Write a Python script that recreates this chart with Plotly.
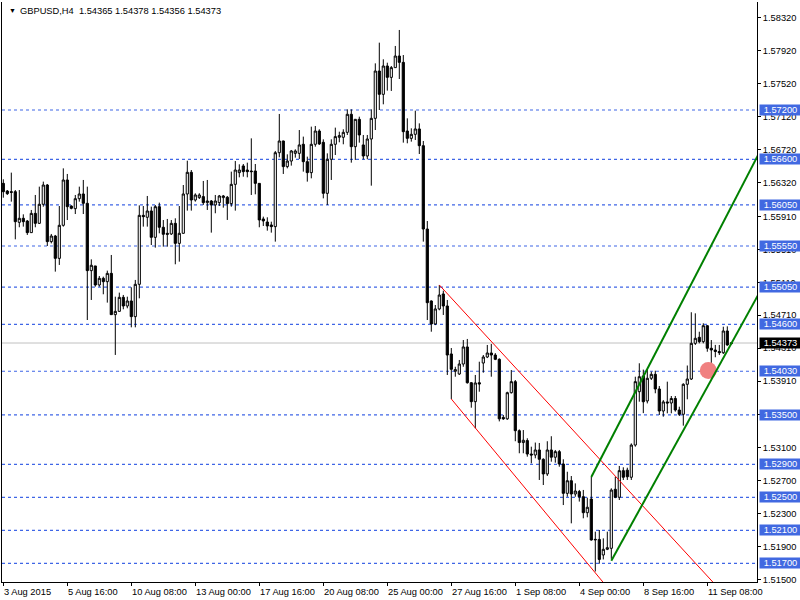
import plotly.graph_objects as go

# ---------------- data ----------------
title_text = "GBPUSD,H4  1.54365 1.54378 1.54356 1.54373"

opens = [1.56310, 1.56217, 1.56209, 1.56209, 1.55837, 1.55886, 1.55853, 1.55712, 1.55946, 1.55825,
         1.56056, 1.56290, 1.55603, 1.55671, 1.55400, 1.55801, 1.56351, 1.56035, 1.56003, 1.56124,
         1.56181, 1.56068, 1.55251, 1.55308, 1.55077, 1.55158, 1.55117, 1.55218, 1.54717, 1.54757,
         1.54927, 1.54822, 1.54883, 1.54693, 1.55085, 1.55922, 1.55898, 1.55975, 1.55655, 1.56027,
         1.55777, 1.55704, 1.55696, 1.55825, 1.55582, 1.55704, 1.56181, 1.56444, 1.56108, 1.56137,
         1.56149, 1.56076, 1.56096, 1.56048, 1.56076, 1.56137, 1.56141, 1.56064, 1.56298, 1.56440,
         1.56521, 1.56472, 1.56460, 1.56460, 1.56310, 1.55878, 1.55841, 1.55805, 1.55785, 1.56682,
         1.56824, 1.56513, 1.56581, 1.56674, 1.56674, 1.56784, 1.56573, 1.56440, 1.56784, 1.56945,
         1.56808, 1.56189, 1.56602, 1.56784, 1.56869, 1.56869, 1.56929, 1.57148, 1.56755, 1.57087,
         1.56776, 1.56642, 1.56848, 1.57099, 1.57673, 1.57390, 1.57734, 1.57596, 1.57714, 1.57855,
         1.57778, 1.56945, 1.56856, 1.56905, 1.56970, 1.56767, 1.55756, 1.54883, 1.54604, 1.54786,
         1.54968, 1.54822, 1.54240, 1.54030, 1.53997, 1.54118, 1.54325, 1.53891, 1.53661, 1.53891,
         1.54130, 1.54203, 1.54252, 1.54227, 1.54175, 1.53470, 1.53453, 1.53770, 1.53904, 1.53309,
         1.53165, 1.53189, 1.53026, 1.53014, 1.53075, 1.52962, 1.52784, 1.53075, 1.52987, 1.53055,
         1.52905, 1.52549, 1.52702, 1.52541, 1.52570, 1.52508, 1.52314, 1.52480, 1.51983, 1.51990,
         1.51801, 1.51870, 1.51882, 1.52598, 1.52501, 1.52824, 1.52830, 1.52744, 1.53135, 1.53782,
         1.53973, 1.53670, 1.53945, 1.53993, 1.53815, 1.53548, 1.53658, 1.53645, 1.53700, 1.53560,
         1.53508, 1.53872, 1.53936, 1.54369, 1.54442, 1.54389, 1.54583, 1.54309, 1.54288, 1.54270,
         1.54255, 1.54519, 1.54365]

highs = [1.56359, 1.56229, 1.56440, 1.56229, 1.56229, 1.55934, 1.55865, 1.55987, 1.56169, 1.56270,
         1.56331, 1.56302, 1.55696, 1.55684, 1.56035, 1.56492, 1.56424, 1.56043, 1.56169, 1.56270,
         1.56351, 1.56270, 1.55388, 1.55308, 1.55186, 1.55178, 1.55251, 1.55441, 1.54935, 1.54984,
         1.54956, 1.54935, 1.55049, 1.55138, 1.56043, 1.56035, 1.56157, 1.56027, 1.56047, 1.56076,
         1.55865, 1.55878, 1.55865, 1.55886, 1.56035, 1.56290, 1.56585, 1.56472, 1.56189, 1.56190,
         1.56339, 1.56351, 1.56108, 1.56169, 1.56169, 1.56169, 1.56157, 1.56452, 1.56581, 1.56541,
         1.56545, 1.56561, 1.56856, 1.56545, 1.56310, 1.55906, 1.55898, 1.55845, 1.56703, 1.57152,
         1.56828, 1.56662, 1.56715, 1.56723, 1.56957, 1.56877, 1.56634, 1.56998, 1.57006, 1.56966,
         1.56844, 1.56674, 1.56844, 1.56986, 1.56937, 1.56966, 1.57208, 1.57208, 1.57091, 1.57119,
         1.56897, 1.56897, 1.57208, 1.57766, 1.58017, 1.57815, 1.57774, 1.57734, 1.57977, 1.58171,
         1.57867, 1.57099, 1.56978, 1.57192, 1.57038, 1.56824, 1.55853, 1.54890, 1.54834, 1.55077,
         1.55008, 1.54895, 1.54312, 1.54085, 1.54167, 1.54409, 1.54422, 1.53900, 1.53985, 1.54146,
         1.54227, 1.54349, 1.54361, 1.54250, 1.54187, 1.53500, 1.53782, 1.54045, 1.53924, 1.53325,
         1.53317, 1.53217, 1.53115, 1.53165, 1.53160, 1.52974, 1.53181, 1.53242, 1.53075, 1.53075,
         1.52962, 1.52811, 1.52759, 1.52670, 1.52590, 1.52590, 1.52496, 1.52747, 1.52084, 1.52104,
         1.52003, 1.52084, 1.52610, 1.52751, 1.52881, 1.52865, 1.52860, 1.53155, 1.53964, 1.54127,
         1.54050, 1.54045, 1.54025, 1.54037, 1.53851, 1.53680, 1.53904, 1.53730, 1.53730, 1.53600,
         1.53884, 1.54100, 1.54746, 1.54733, 1.54510, 1.54612, 1.54590, 1.54409, 1.54350, 1.54349,
         1.54571, 1.54575, 1.54378]

lows = [1.56136, 1.56169, 1.56088, 1.55631, 1.55777, 1.55785, 1.55684, 1.55710, 1.55777, 1.55817,
        1.56027, 1.55550, 1.55582, 1.55239, 1.55320, 1.55785, 1.55865, 1.55995, 1.55938, 1.56088,
        1.55938, 1.54652, 1.54895, 1.55057, 1.55057, 1.54964, 1.54863, 1.54717, 1.54228, 1.54753,
        1.54782, 1.54794, 1.54563, 1.54563, 1.54915, 1.55785, 1.55785, 1.55562, 1.55530, 1.55704,
        1.55542, 1.55542, 1.55684, 1.55328, 1.55360, 1.55700, 1.55979, 1.55979, 1.56088, 1.56120,
        1.56048, 1.55987, 1.55712, 1.55947, 1.56035, 1.56015, 1.55866, 1.56027, 1.55979, 1.56383,
        1.56391, 1.56383, 1.56169, 1.56177, 1.55777, 1.55793, 1.55736, 1.55712, 1.55603, 1.56626,
        1.56424, 1.56492, 1.56525, 1.56622, 1.56606, 1.56452, 1.56331, 1.56371, 1.56755, 1.56776,
        1.56128, 1.56048, 1.56351, 1.56654, 1.56808, 1.56784, 1.56897, 1.56561, 1.56594, 1.56804,
        1.56602, 1.56602, 1.56282, 1.56957, 1.57200, 1.57269, 1.57435, 1.57431, 1.57714, 1.57576,
        1.56804, 1.56796, 1.56816, 1.56836, 1.56666, 1.55603, 1.54652, 1.54510, 1.54590, 1.54770,
        1.54713, 1.53985, 1.53694, 1.53964, 1.53985, 1.54085, 1.53880, 1.53588, 1.53338, 1.53782,
        1.54013, 1.54190, 1.53964, 1.54165, 1.53422, 1.53440, 1.53440, 1.53760, 1.53181, 1.53035,
        1.53035, 1.52994, 1.52913, 1.52974, 1.52711, 1.52650, 1.52760, 1.52933, 1.52921, 1.52872,
        1.52407, 1.52508, 1.52185, 1.52508, 1.52449, 1.52246, 1.52258, 1.51975, 1.51601, 1.51696,
        1.51747, 1.51860, 1.51754, 1.52490, 1.52468, 1.52711, 1.52711, 1.52711, 1.53115, 1.53661,
        1.53522, 1.53640, 1.53924, 1.53763, 1.53500, 1.53479, 1.53520, 1.53520, 1.53540, 1.53487,
        1.53370, 1.53690, 1.53924, 1.54349, 1.54369, 1.54369, 1.54267, 1.54045, 1.54200, 1.54227,
        1.54240, 1.54340, 1.54356]

closes = [1.56209, 1.56185, 1.56201, 1.55845, 1.55886, 1.55845, 1.55712, 1.55946, 1.55825, 1.56056,
          1.56290, 1.55603, 1.55671, 1.55400, 1.55801, 1.56351, 1.56027, 1.56007, 1.56124, 1.56181,
          1.56068, 1.55251, 1.55316, 1.55077, 1.55158, 1.55117, 1.55218, 1.54717, 1.54757, 1.54927,
          1.54822, 1.54883, 1.54693, 1.55085, 1.55922, 1.55906, 1.55975, 1.55655, 1.56027, 1.55777,
          1.55692, 1.55692, 1.55825, 1.55582, 1.55704, 1.56181, 1.56444, 1.56108, 1.56169, 1.56169,
          1.56076, 1.56096, 1.56048, 1.56096, 1.56157, 1.56157, 1.56064, 1.56298, 1.56472, 1.56472,
          1.56452, 1.56452, 1.56452, 1.56310, 1.55866, 1.55854, 1.55793, 1.55785, 1.56682, 1.56824,
          1.56513, 1.56581, 1.56703, 1.56703, 1.56776, 1.56573, 1.56440, 1.56784, 1.56945, 1.56788,
          1.56189, 1.56602, 1.56784, 1.56877, 1.56889, 1.56929, 1.57148, 1.56755, 1.57087, 1.56897,
          1.56642, 1.56848, 1.57099, 1.57673, 1.57390, 1.57734, 1.57596, 1.57714, 1.57855, 1.57778,
          1.56937, 1.56856, 1.56905, 1.56970, 1.56767, 1.55756, 1.54862, 1.54604, 1.54786, 1.54955,
          1.54822, 1.54227, 1.54054, 1.54050, 1.54118, 1.54325, 1.53891, 1.53661, 1.53888, 1.53876,
          1.54203, 1.54252, 1.54227, 1.54175, 1.53453, 1.53453, 1.53770, 1.53904, 1.53309, 1.53165,
          1.53193, 1.53026, 1.53014, 1.53075, 1.52962, 1.52784, 1.53075, 1.52987, 1.53055, 1.52905,
          1.52549, 1.52702, 1.52541, 1.52577, 1.52508, 1.52314, 1.52380, 1.51983, 1.51990, 1.51747,
          1.51870, 1.51889, 1.52589, 1.52501, 1.52824, 1.52744, 1.52750, 1.53135, 1.53904, 1.53964,
          1.53660, 1.53945, 1.53993, 1.53815, 1.53548, 1.53658, 1.53645, 1.53700, 1.53560, 1.53508,
          1.53872, 1.53936, 1.54369, 1.54430, 1.54389, 1.54583, 1.54309, 1.54288, 1.54270, 1.54255,
          1.54519, 1.54349, 1.54373]

bar_index = list(range(len(opens)))

x_tick_bars = [0, 16, 32, 48, 64, 80, 96, 112, 128, 144, 160, 176]
x_tick_labels = ["3 Aug 2015", "5 Aug 16:00", "10 Aug 08:00", "13 Aug 00:00", "17 Aug 16:00",
                 "20 Aug 08:00", "25 Aug 00:00", "27 Aug 16:00", "1 Sep 08:00", "4 Sep 00:00",
                 "8 Sep 16:00", "11 Sep 08:00"]

y_tick_values = [1.5832, 1.5792, 1.5752, 1.5712, 1.5672, 1.5632, 1.5591, 1.5551, 1.5511,
                 1.5471, 1.5431, 1.5391, 1.5351, 1.5310, 1.5270, 1.5230, 1.5190, 1.5150]

level_prices = [1.5720, 1.5660, 1.5605, 1.5555, 1.5505, 1.5460, 1.5403, 1.5350,
                1.5290, 1.5250, 1.5210, 1.5170]

current_price = 1.54373

red_upper_bars = [109, 190]
red_upper_prices = [1.55077, 1.50808]
red_lower_bars = [112, 160]
red_lower_prices = [1.53694, 1.50881]
green_upper_bars = [147, 190]
green_upper_prices = [1.52747, 1.56776]
green_lower_bars = [152, 190]
green_lower_prices = [1.51730, 1.55070]
marker_bar = [176.25]
marker_price = [1.54040]

# ---------------- figure ----------------
FONT = "Liberation Sans, Arial, sans-serif"
FS = 9.3
LEVEL_BLUE = "#3F66E6"

fig = go.Figure()

fig.add_trace(go.Candlestick(
    x=bar_index, open=opens, high=highs, low=lows, close=closes,
    increasing=dict(line=dict(color="black", width=1), fillcolor="white"),
    decreasing=dict(line=dict(color="black", width=1), fillcolor="black"),
    whiskerwidth=0, hoverinfo="skip", showlegend=False,
))

fig.add_trace(go.Scatter(x=marker_bar, y=marker_price, mode="markers",
                         marker=dict(size=17, color="#F08080", line=dict(width=0)),
                         hoverinfo="skip", showlegend=False))

for bx, py, col, w in [(red_upper_bars, red_upper_prices, "#FF0000", 1),
                       (red_lower_bars, red_lower_prices, "#FF0000", 1),
                       (green_upper_bars, green_upper_prices, "#008000", 2),
                       (green_lower_bars, green_lower_prices, "#008000", 2)]:
    fig.add_trace(go.Scatter(x=bx, y=py, mode="lines", line=dict(color=col, width=w),
                             hoverinfo="skip", showlegend=False))

shapes = []
for lv in level_prices:
    shapes.append(dict(type="line", xref="paper", x0=0, x1=1, yref="y", y0=lv, y1=lv,
                       line=dict(color=LEVEL_BLUE, width=1.2, dash="3px,3px"), layer="below"))
shapes.append(dict(type="line", xref="paper", x0=0, x1=1, yref="y", y0=current_price, y1=current_price,
                   line=dict(color="#C0C0C0", width=1), layer="below"))

annotations = []
annotations.append(dict(xref="paper", yref="paper", x=0.0066, y=0.9853, xanchor="left", yanchor="middle",
                        text="▼", showarrow=False, font=dict(family=FONT, size=7, color="black")))
annotations.append(dict(xref="paper", yref="paper", x=0.0212, y=0.9853, xanchor="left", yanchor="middle",
                        text=title_text, showarrow=False, font=dict(family=FONT, size=FS, color="black")))

for b, lab in zip(x_tick_bars, x_tick_labels):
    annotations.append(dict(xref="x", yref="paper", x=b, y=0, xanchor="left", yanchor="top",
                            xshift=-1, yshift=-3, text=lab, showarrow=False,
                            font=dict(family=FONT, size=FS, color="black")))

for lv in level_prices:
    annotations.append(dict(xref="paper", yref="y", x=1, y=lv, xanchor="left", yanchor="middle",
                            xshift=2, text=f"{lv:.5f}", showarrow=False, bgcolor="#4169E1",
                            borderpad=0, width=41, height=10, align="center",
                            font=dict(family=FONT, size=FS, color="white")))
annotations.append(dict(xref="paper", yref="y", x=1, y=current_price, xanchor="left", yanchor="middle",
                        xshift=2, text=f"{current_price:.5f}", showarrow=False, bgcolor="black",
                        borderpad=0, width=41, height=10, align="center",
                        font=dict(family=FONT, size=FS, color="white")))

fig.update_layout(
    width=800, height=600,
    margin=dict(l=2, r=43, t=2, b=18),
    paper_bgcolor="white", plot_bgcolor="white",
    shapes=shapes, annotations=annotations,
    showlegend=False, hovermode=False, boxgap=0.22,
    font=dict(family=FONT, size=FS, color="black"),
)

fig.update_xaxes(range=[-0.325, 188.425], rangeslider=dict(visible=False),
                 showgrid=False, zeroline=False, showline=True, linecolor="black", linewidth=1,
                 mirror=False, ticks="outside", ticklen=3, tickcolor="black",
                 tickvals=x_tick_bars, showticklabels=False)

fig.update_yaxes(range=[1.514732, 1.585104], side="right",
                 showgrid=False, zeroline=False, showline=True, linecolor="black", linewidth=1,
                 mirror=True, ticks="outside", ticklen=3, tickcolor="black",
                 tickvals=y_tick_values, ticktext=[f"{v:.5f}" for v in y_tick_values],
                 tickfont=dict(family=FONT, size=FS, color="black"))

fig.write_html("out.html", config={"displayModeBar": False},
               post_script="document.body.style.margin='0';document.body.style.overflow='hidden';")
